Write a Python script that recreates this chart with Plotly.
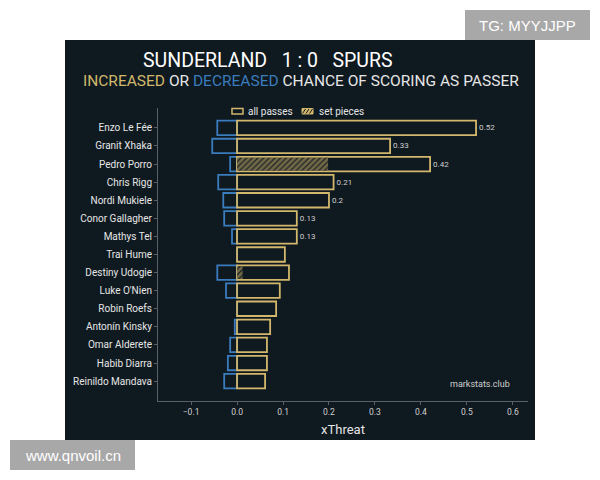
import plotly.graph_objects as go

players = ["Enzo Le Fée", "Granit Xhaka", "Pedro Porro", "Chris Rigg", "Nordi Mukiele",
           "Conor Gallagher", "Mathys Tel", "Trai Hume", "Destiny Udogie", "Luke O'Nien",
           "Robin Roefs", "Antonín Kinsky", "Omar Alderete", "Habib Diarra", "Reinildo Mandava"]
all_passes = [0.52, 0.333, 0.42, 0.21, 0.20, 0.13, 0.13, 0.104, 0.113, 0.093,
              0.085, 0.072, 0.065, 0.065, 0.061]
set_pieces = [0, 0, 0.198, 0, 0, 0, 0, 0, 0.012, 0, 0, 0, 0, 0, 0]
decreased = [-0.043, -0.054, -0.015, -0.041, -0.030, -0.028, -0.011, 0, -0.043, -0.024,
             0, -0.005, -0.015, -0.020, -0.028]
value_labels = ["0.52", "0.33", "0.42", "0.21", "0.2", "0.13", "0.13",
                "", "", "", "", "", "", "", ""]

BG = "#0f1920"
GOLD = "#d2b76c"
BLUE = "#3b7cbd"
TXT = "#e6e6e6"

# plot area in page pixels
L, R, T, B = 158, 528, 108, 401
W, H = 600, 480
def px(x):
    return (x - L) / (R - L)
def py(y):
    return (B - y) / (B - T)

fig = go.Figure()
fig.add_trace(go.Bar(
    y=players, x=decreased, orientation="h", width=0.8, showlegend=False,
    marker=dict(color=BG, line=dict(color=BLUE, width=1.8)), hoverinfo="skip"))
fig.add_trace(go.Bar(
    y=players, x=all_passes, orientation="h", width=0.8, name="all passes", showlegend=False,
    marker=dict(color=BG, line=dict(color=GOLD, width=1.8)),
    text=value_labels, textposition="outside", cliponaxis=False,
    textfont=dict(size=8, color="#cfcfcf"), hoverinfo="skip"))
fig.add_trace(go.Bar(
    y=players, x=set_pieces, orientation="h", width=0.7, name="set pieces", showlegend=False,
    marker=dict(color=BG, line=dict(color=GOLD, width=0),
                pattern=dict(shape="/", fgcolor=GOLD, bgcolor=BG, size=4, solidity=0.72)),
    hoverinfo="skip"))

def ann(text, x, y, size, color=TXT, xanchor="center", family="Roboto"):
    return dict(text=text, x=px(x), y=py(y), xref="paper", yref="paper", showarrow=False,
                xanchor=xanchor, yanchor="middle", font=dict(size=size, color=color, family=family))

annotations = [
    ann("SUNDERLAND   1 : 0   SPURS", 268, 60, 19.5, "#ffffff"),
    ann(f"<span style='color:{GOLD}'>INCREASED</span> OR "
        f"<span style='color:{BLUE}'>DECREASED</span> CHANCE OF SCORING AS PASSER",
        301, 81, 15.5),
    ann("markstats.club", 512, 384, 9, "#cfcfcf", xanchor="right"),
    ann("all passes", 246, 111, 10, xanchor="left"),
    ann("set pieces", 317, 111, 10, xanchor="left"),
    ann("TG: MYYJJPP", (465 + 590) / 2, 25, 15, "#ffffff", family="Liberation Sans"),
    ann("www.qnvoil.cn", (10 + 135) / 2, 455, 15, "#ffffff", family="Liberation Sans"),
]

def rect(x0, x1, y0, y1, fill, line_color=None, lw=0, layer="below"):
    return dict(type="rect", xref="paper", yref="paper", x0=px(x0), x1=px(x1),
                y0=py(y1), y1=py(y0), fillcolor=fill,
                line=dict(width=lw, color=line_color or fill), layer=layer)

shapes = [
    rect(65, 535, 40, 440, BG),
    rect(465, 590, 10, 40, "#a8a8a8"),
    rect(10, 135, 440, 470, "#a8a8a8"),
    # legend symbols
    rect(232, 243, 108.5, 114, BG, GOLD, 1.5, layer="above"),
    rect(302, 313, 108.5, 114, GOLD, GOLD, 1, layer="above"),
]
for x in (304, 307.5, 311):
    shapes.append(dict(type="line", xref="paper", yref="paper", x0=px(x - 1.5), y0=py(113.5),
                       x1=px(x + 1.5), y1=py(109), line=dict(color=BG, width=1), layer="above"))

fig.update_layout(
    width=W, height=H, barmode="overlay",
    margin=dict(l=L, r=W - R, t=T, b=H - B, pad=0),
    paper_bgcolor="#ffffff", plot_bgcolor=BG,
    font=dict(family="Roboto", color=TXT),
    showlegend=False,
    annotations=annotations, shapes=shapes,
    xaxis=dict(range=[-0.172, 0.633], dtick=0.1, tick0=0, tickformat=".1f", showgrid=False,
               zeroline=False, showline=True, linecolor="#5a6068", linewidth=1,
               ticks="outside", ticklen=3, tickcolor="#5a6068",
               tickfont=dict(size=8.5, color="#cfcfcf"),
               title=dict(text="xThreat", font=dict(size=13, color=TXT), standoff=8)),
    yaxis=dict(range=[15.1, -1.1], showgrid=False, zeroline=False, showline=True,
               linecolor="#5a6068", linewidth=1, ticks="outside", ticklen=3,
               tickcolor="#5a6068", tickfont=dict(size=10, color=TXT)),
)

fig.write_html("out.html")
